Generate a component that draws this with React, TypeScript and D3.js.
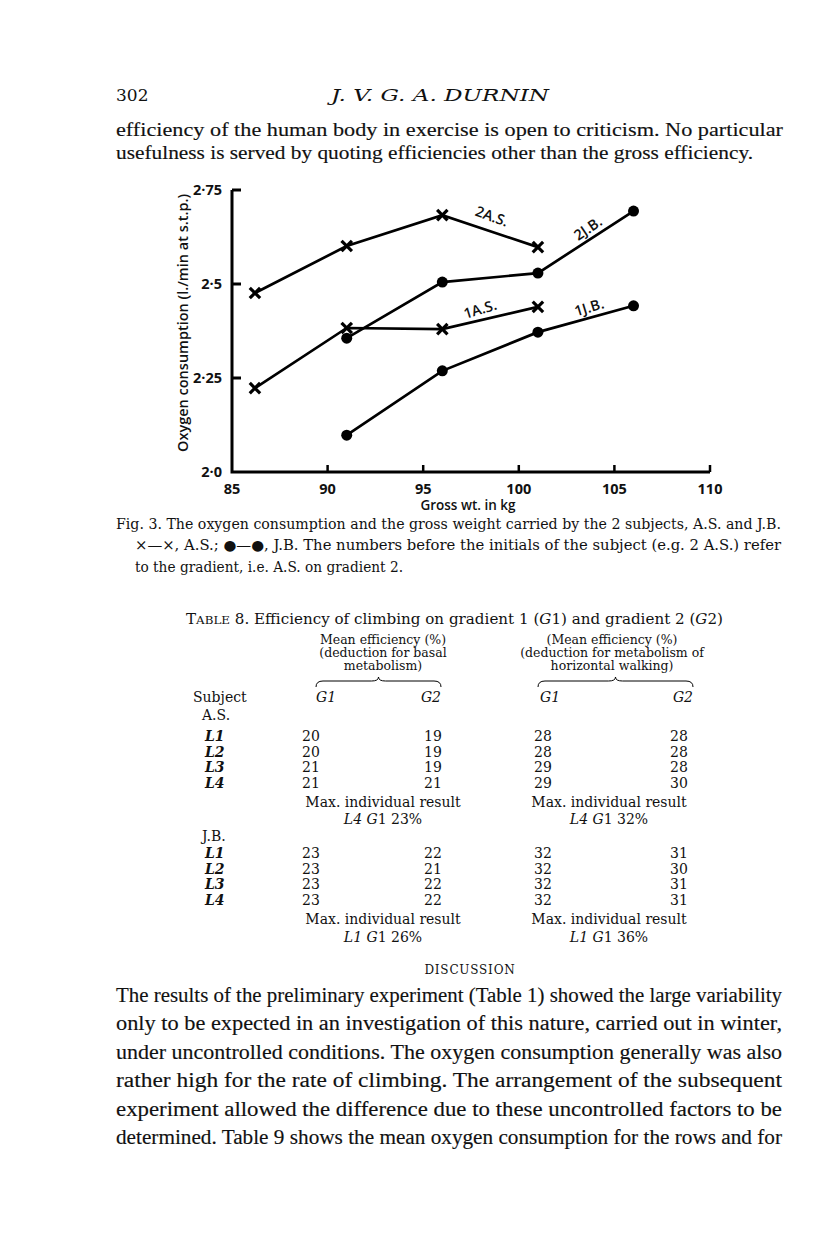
import React from 'react';
import * as d3 from 'd3';

// ---------- chart data ----------
const asWeights = [86.2, 91, 96, 101];
const as1Values = [2.223, 2.383, 2.38, 2.439];
const as2Values = [2.476, 2.601, 2.683, 2.598];
const jbWeights = [91, 96, 101, 106];
const jb1Values = [2.098, 2.269, 2.372, 2.442];
const jb2Values = [2.356, 2.505, 2.529, 2.694];
const xTicks = [85, 90, 95, 100, 105, 110];
const yTicks = [2.0, 2.25, 2.5, 2.75];
const yTickLabels = ['2·0', '2·25', '2·5', '2·75'];
const seriesLabels = ['2A.S.', '2J.B.', '1A.S.', '1J.B.'];

// ---------- table data ----------
const asRowLabels = ['L1', 'L2', 'L3', 'L4'];
const asBasalG1 = [20, 20, 21, 21];
const asBasalG2 = [19, 19, 19, 21];
const asHorizG1 = [28, 28, 29, 29];
const asHorizG2 = [28, 28, 28, 30];
const jbRowLabels = ['L1', 'L2', 'L3', 'L4'];
const jbBasalG1 = [23, 23, 23, 23];
const jbBasalG2 = [22, 21, 22, 22];
const jbHorizG1 = [32, 32, 32, 32];
const jbHorizG2 = [31, 30, 31, 31];

const SERIF = "'DejaVu Serif', serif";
const BODY = "'Liberation Serif', 'DejaVu Serif', serif";
const SANS = "'Open Sans', 'Noto Sans', sans-serif";

const bodyTop = [
  'efficiency of the human body in exercise is open to criticism.  No particular',
  'usefulness is served by quoting efficiencies other than the gross efficiency.',
];
const discussion = [
  'The results of the preliminary experiment (Table 1) showed the large variability',
  'only to be expected in an investigation of this nature, carried out in winter,',
  'under uncontrolled conditions. The oxygen consumption generally was also',
  'rather high for the rate of climbing. The arrangement of the subsequent',
  'experiment allowed the difference due to these uncontrolled factors to be',
  'determined. Table 9 shows the mean oxygen consumption for the rows and for',
];

function brace(x1: number, x2: number, y: number) {
  const m = (x1 + x2) / 2;
  return `M${x1},${y + 6} Q${x1},${y} ${x1 + 7},${y} L${m - 7},${y} Q${m},${y} ${m},${y - 4} Q${m},${y} ${m + 7},${y} L${x2 - 7},${y} Q${x2},${y} ${x2},${y + 6}`;
}

function Chart() {
  const x = d3.scaleLinear().domain([85, 110]).range([232, 710]);
  const y = d3.scaleLinear().domain([2.0, 2.75]).range([472, 190]);
  const line = d3
    .line<[number, number]>()
    .x((d) => x(d[0]))
    .y((d) => y(d[1]));
  const zip = (a: number[], b: number[]) => a.map((v, i) => [v, b[i]] as [number, number]);
  const asSeries = [zip(asWeights, as1Values), zip(asWeights, as2Values)];
  const jbSeries = [zip(jbWeights, jb1Values), zip(jbWeights, jb2Values)];
  const labelPos: [number, number, number][] = [
    [98.6, 2.681, 20],
    [103.6, 2.649, -34],
    [97.97, 2.434, -17],
    [103.67, 2.439, -17],
  ];
  return (
    <g fill="#111">
      <path d={`M${x(85)},${y(2.75)} L${x(85)},${y(2.0)} L${x(110)},${y(2.0)}`} fill="none" stroke="#000" strokeWidth={3} />
      {yTicks.filter((t) => t > 2).map((t) => (
        <line key={t} x1={x(85)} x2={x(85) + 9} y1={y(t)} y2={y(t)} stroke="#000" strokeWidth={3} />
      ))}
      {xTicks.filter((t) => t > 85).map((t) => (
        <line key={t} x1={x(t)} x2={x(t)} y1={y(2.0)} y2={y(2.0) - 7} stroke="#000" strokeWidth={2.5} />
      ))}
      {yTicks.map((t, i) => (
        <text key={t} x={222} y={y(t) + 5} textAnchor="end" fontFamily={SANS} fontWeight={700} fontSize={14.5}>
          {yTickLabels[i]}
        </text>
      ))}
      {xTicks.map((t) => (
        <text key={t} x={x(t)} y={y(2.0) + 22} textAnchor="middle" fontFamily={SANS} fontWeight={700} fontSize={14.5}>
          {t}
        </text>
      ))}
      <text x={468} y={510} textAnchor="middle" fontFamily={SANS} fontWeight={600} fontSize={13.5}>
        Gross wt. in kg
      </text>
      <text
        transform="translate(188,323) rotate(-90)"
        textAnchor="middle"
        fontFamily={SANS}
        fontWeight={600}
        fontSize={13.5}
        textLength={258}
        lengthAdjust="spacingAndGlyphs"
      >
        Oxygen consumption (l./min at s.t.p.)
      </text>
      {[...asSeries, ...jbSeries].map((s, i) => (
        <path key={i} d={line(s) || ''} fill="none" stroke="#000" strokeWidth={2.7} />
      ))}
      {asSeries.flat().map((d, i) => {
        const cx = x(d[0]);
        const cy = y(d[1]);
        const r = 5.2;
        return (
          <g key={'x' + i} stroke="#000" strokeWidth={3.2}>
            <line x1={cx - r} y1={cy - r} x2={cx + r} y2={cy + r} />
            <line x1={cx - r} y1={cy + r} x2={cx + r} y2={cy - r} />
          </g>
        );
      })}
      {jbSeries.flat().map((d, i) => (
        <circle key={'c' + i} cx={x(d[0])} cy={y(d[1])} r={5.5} fill="#000" />
      ))}
      {seriesLabels.map((s, i) => {
        const [lx, ly, rot] = labelPos[i];
        return (
          <text
            key={s}
            transform={`translate(${x(lx)},${y(ly)}) rotate(${rot})`}
            textAnchor="middle"
            dominantBaseline="central"
            fontFamily={SANS}
            fontSize={14.5}
            fontWeight={600}
          >
            {s}
          </text>
        );
      })}
    </g>
  );
}

function Table() {
  const c1 = 311;
  const c2 = 433;
  const c3 = 543;
  const c4 = 679;
  const rowStep = 15.5;
  const rows = (labels: string[], a: number[], b: number[], c: number[], d: number[], y0: number) =>
    labels.map((l, i) => {
      const yy = y0 + i * rowStep;
      return (
        <g key={l + y0}>
          <text x={205} y={yy} fontStyle="italic" fontWeight={700}>{l}</text>
          <text x={c1} y={yy} textAnchor="middle">{a[i]}</text>
          <text x={c2} y={yy} textAnchor="middle">{b[i]}</text>
          <text x={c3} y={yy} textAnchor="middle">{c[i]}</text>
          <text x={c4} y={yy} textAnchor="middle">{d[i]}</text>
        </g>
      );
    });
  return (
    <g fontFamily={SERIF} fontSize={14} fill="#111">
      <text x={186} y={624} textLength={537} lengthAdjust="spacingAndGlyphs">
        <tspan>T</tspan>
        <tspan fontSize={11}>ABLE</tspan>
        <tspan> 8.  Efficiency of climbing on gradient 1 (</tspan>
        <tspan fontStyle="italic">G</tspan>
        <tspan>1) and gradient 2 (</tspan>
        <tspan fontStyle="italic">G</tspan>
        <tspan>2)</tspan>
      </text>
      <g fontSize={12.5}>
        <text x={383} y={644} textAnchor="middle">Mean efficiency (%)</text>
        <text x={383} y={657} textAnchor="middle">(deduction for basal</text>
        <text x={383} y={670} textAnchor="middle">metabolism)</text>
        <text x={612} y={644} textAnchor="middle">(Mean efficiency (%)</text>
        <text x={612} y={657} textAnchor="middle">(deduction for metabolism of</text>
        <text x={612} y={670} textAnchor="middle">horizontal walking)</text>
      </g>
      <path d={brace(316, 441, 681)} fill="none" stroke="#000" strokeWidth={1} />
      <path d={brace(538, 693, 681)} fill="none" stroke="#000" strokeWidth={1} />
      <text x={193} y={702}>Subject</text>
      <text x={316} y={702} fontStyle="italic">G1</text>
      <text x={441} y={702} textAnchor="end" fontStyle="italic">G2</text>
      <text x={540} y={702} fontStyle="italic">G1</text>
      <text x={693} y={702} textAnchor="end" fontStyle="italic">G2</text>
      <text x={202} y={720}>A.S.</text>
      {rows(asRowLabels, asBasalG1, asBasalG2, asHorizG1, asHorizG2, 741)}
      <text x={383} y={807} textAnchor="middle">Max. individual result</text>
      <text x={609} y={807} textAnchor="middle">Max. individual result</text>
      <text x={383} y={824} textAnchor="middle"><tspan fontStyle="italic">L4  G</tspan>1 23%</text>
      <text x={609} y={824} textAnchor="middle"><tspan fontStyle="italic">L4  G</tspan>1 32%</text>
      <text x={202} y={841}>J.B.</text>
      {rows(jbRowLabels, jbBasalG1, jbBasalG2, jbHorizG1, jbHorizG2, 858)}
      <text x={383} y={924} textAnchor="middle">Max. individual result</text>
      <text x={609} y={924} textAnchor="middle">Max. individual result</text>
      <text x={383} y={942} textAnchor="middle"><tspan fontStyle="italic">L1  G</tspan>1 26%</text>
      <text x={609} y={942} textAnchor="middle"><tspan fontStyle="italic">L1  G</tspan>1 36%</text>
    </g>
  );
}

export default function App() {
  return (
    <svg
      width={816}
      height={1233}
      viewBox="0 0 816 1233"
      style={{ position: 'absolute', left: 0, top: 0, background: '#fff' }}
    >
      <rect width={816} height={1233} fill="#fff" />
      <g fontFamily={SERIF} fill="#111">
        <text x={116} y={101} fontSize={17}>302</text>
        <text x={440} y={101} fontSize={17} fontStyle="italic" textAnchor="middle" textLength={218} lengthAdjust="spacingAndGlyphs">
          J. V. G. A. DURNIN
        </text>
      </g>
      <g fontFamily={BODY} fill="#111" stroke="#111" strokeWidth={0.15}>
        {bodyTop.map((t, i) => (
          <text key={i} x={116} y={136 + i * 23} fontSize={19} textLength={i === 0 ? 667 : 637} lengthAdjust="spacingAndGlyphs">
            {t}
          </text>
        ))}
      </g>
      <Chart />
      <g fontFamily={SERIF} fontSize={14} fill="#111">
        <text x={116} y={529} textLength={665} lengthAdjust="spacingAndGlyphs">
          Fig. 3. The oxygen consumption and the gross weight carried by the 2 subjects, A.S. and J.B.
        </text>
        <text x={135} y={550} textLength={646} lengthAdjust="spacingAndGlyphs">
          ×—×, A.S.; ●—●, J.B. The numbers before the initials of the subject (e.g. 2 A.S.) refer
        </text>
        <text x={135} y={572} textLength={268} lengthAdjust="spacingAndGlyphs">
          to the gradient, i.e. A.S. on gradient 2.
        </text>
      </g>
      <Table />
      <text x={470} y={974} textAnchor="middle" fontFamily={SERIF} fontSize={12} letterSpacing={0.8} fill="#111">
        DISCUSSION
      </text>
      <g fontFamily={BODY} fontSize={20} fill="#111" stroke="#111" strokeWidth={0.15}>
        {discussion.map((t, i) => (
          <text key={i} x={116} y={1002 + i * 28.4} textLength={666} lengthAdjust="spacingAndGlyphs">
            {t}
          </text>
        ))}
      </g>
    </svg>
  );
}
